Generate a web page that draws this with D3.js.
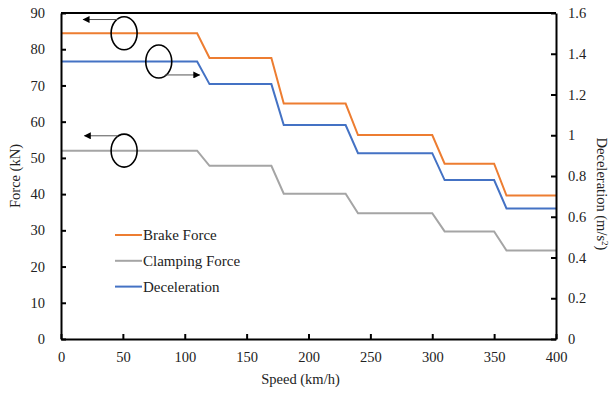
<!DOCTYPE html>
<html><head><meta charset="utf-8">
<script src="https://cdn.jsdelivr.net/npm/d3@7"></script>
<style>body{margin:0;background:#fff}svg{display:block}</style>
</head><body>
<script>
// Data
const speeds = [0,110,120,170,180,230,240,300,310,350,360,400];
const brakeForce = [84.4,84.4,77.6,77.6,65.0,65.0,56.3,56.3,48.4,48.4,39.6,39.6];
const clampingForce = [52.0,52.0,47.8,47.8,40.1,40.1,34.7,34.7,29.7,29.7,24.4,24.4];
const deceleration = [1.362,1.362,1.251,1.251,1.050,1.050,0.912,0.912,0.780,0.780,0.641,0.641];
const xTicks = [0,50,100,150,200,250,300,350,400];
const yLeftTicks = [0,10,20,30,40,50,60,70,80,90];
const yRightTicks = [0,0.2,0.4,0.6,0.8,1,1.2,1.4,1.6];
const legendNames = ["Brake Force","Clamping Force","Deceleration"];
const colors = ["#ED7D31","#A5A5A5","#4472C4"];
// annotations: [speed, force] circle centre, arrow from/to speeds at a force level
const circles = [[51,84.4],[79,76.6],[51,52.0]];
const arrows = [[46,18,88.2],[84,112,72.9],[46,19,56.1]];

const FONT = "Liberation Serif";
const W=610,H=395, L=61, R=556, T=13, B=339;
const svg=d3.select("body").append("svg").attr("width",W).attr("height",H);
const x=d3.scaleLinear().domain([0,400]).range([L,R]);
const y=d3.scaleLinear().domain([0,90]).range([B,T]);
const y2=d3.scaleLinear().domain([0,1.6]).range([B,T]);

svg.append("defs").append("marker").attr("id","ah").attr("viewBox","0 0 10 10")
  .attr("refX",9).attr("refY",5).attr("markerWidth",9).attr("markerHeight",7)
  .attr("markerUnits","userSpaceOnUse").attr("orient","auto")
  .append("path").attr("d","M0,0L10,5L0,10Z").attr("fill","#000");

// series
const line=(ys,sc)=>d3.line().x((d,i)=>x(speeds[i])).y(d=>sc(d))(ys);
svg.append("path").attr("d",line(clampingForce,y)).attr("fill","none").attr("stroke",colors[1]).attr("stroke-width",2);
svg.append("path").attr("d",line(deceleration,y2)).attr("fill","none").attr("stroke",colors[2]).attr("stroke-width",2);
svg.append("path").attr("d",line(brakeForce,y)).attr("fill","none").attr("stroke",colors[0]).attr("stroke-width",2);

// axes
const fs="14.5px";
const gx=svg.append("g").attr("transform",`translate(0,${B})`).call(d3.axisBottom(x).tickValues(xTicks).tickSizeInner(-5).tickSizeOuter(0).tickPadding(13));
const gl=svg.append("g").attr("transform",`translate(${L},0)`).call(d3.axisLeft(y).tickValues(yLeftTicks).tickSizeInner(-5).tickSizeOuter(0).tickPadding(16));
const gr=svg.append("g").attr("transform",`translate(${R},0)`).call(d3.axisRight(y2).tickValues(yRightTicks).tickFormat(d=>d3.format("")(+d.toFixed(1))).tickSizeInner(-5).tickSizeOuter(0).tickPadding(12));
[gx,gl,gr].forEach(g=>{g.attr("font-family",FONT).attr("font-size",fs);g.selectAll("text").attr("font-family",FONT).style("font-family",FONT).style("font-size",fs).attr("fill","#222");g.selectAll("line").attr("stroke","#000").attr("stroke-width",2);g.select(".domain").attr("stroke","#000").attr("stroke-width",2);});
svg.append("line").attr("x1",L).attr("x2",R).attr("y1",T).attr("y2",T).attr("stroke","#000").attr("stroke-width",2);

// titles
const txt=()=>svg.append("text").attr("font-family",FONT).style("font-family",FONT).style("font-size",fs).attr("fill","#222");
txt().attr("transform",`translate(20,${(T+B)/2}) rotate(-90)`).attr("text-anchor","middle").text("Force (kN)");
const rt=txt().attr("transform",`translate(597,${(T+B)/2+18}) rotate(90)`).attr("text-anchor","middle");
rt.append("tspan").text("Deceleration (m/s");
rt.append("tspan").attr("dy",-5).style("font-size","9px").text("2");
rt.append("tspan").attr("dy",5).text(")");
txt().attr("x",(L+R)/2-8).attr("y",384).attr("text-anchor","middle").text("Speed (km/h)");

// legend
legendNames.forEach((n,i)=>{
  const ly=235+i*25.8;
  svg.append("line").attr("x1",115).attr("x2",142).attr("y1",ly).attr("y2",ly).attr("stroke",colors[i]).attr("stroke-width",2);
  txt().attr("x",143).attr("y",ly+5).style("font-size","15px").text(n);
});

// annotations
circles.forEach(c=>svg.append("ellipse").attr("cx",x(c[0])).attr("cy",y(c[1])).attr("rx",13).attr("ry",16.5).attr("fill","none").attr("stroke","#000").attr("stroke-width",1.6));
arrows.forEach(a=>svg.append("line").attr("x1",x(a[0])).attr("x2",x(a[1])).attr("y1",y(a[2])).attr("y2",y(a[2])).attr("stroke","#555").attr("stroke-width",1).attr("marker-end","url(#ah)"));
</script>
</body></html>
